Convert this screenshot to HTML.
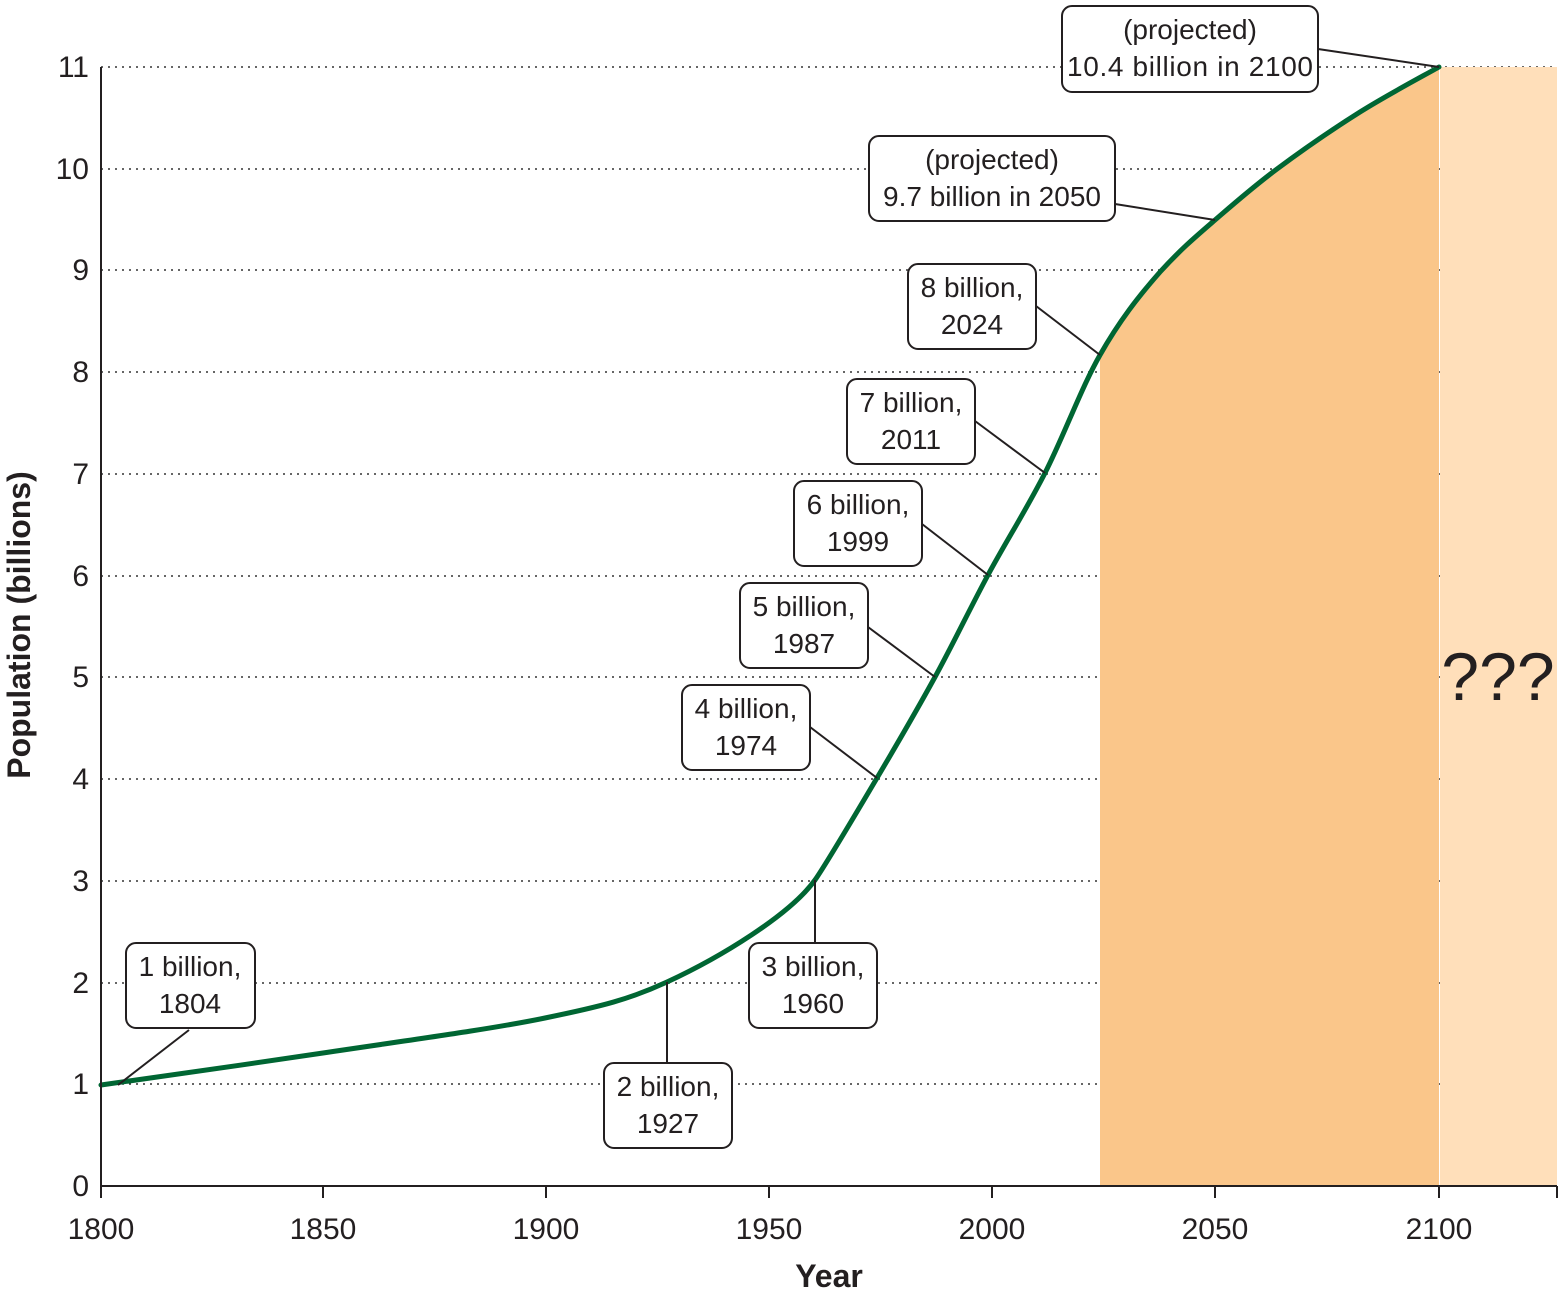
<!DOCTYPE html>
<html><head><style>body{margin:0;background:#fff}svg{display:block}</style></head><body>
<svg width="1563" height="1293" xmlns="http://www.w3.org/2000/svg" font-family="Liberation Sans, sans-serif" fill="#231f20">
<g stroke="#333" stroke-width="1.6" stroke-dasharray="2,5">
<line x1="101" y1="67" x2="1557" y2="67"/><line x1="101" y1="169" x2="1557" y2="169"/><line x1="101" y1="270" x2="1557" y2="270"/><line x1="101" y1="372" x2="1557" y2="372"/><line x1="101" y1="474" x2="1557" y2="474"/><line x1="101" y1="576" x2="1557" y2="576"/><line x1="101" y1="677" x2="1557" y2="677"/><line x1="101" y1="779" x2="1557" y2="779"/><line x1="101" y1="881" x2="1557" y2="881"/><line x1="101" y1="983" x2="1557" y2="983"/><line x1="101" y1="1084" x2="1557" y2="1084"/>
</g>
<rect x="1440" y="67" width="117" height="1119" fill="#ffdfba"/>
<path fill="#fac68a" stroke="none" d="M1100,355 C1119.2,321.2 1138,297 1160,272 C1181,249 1195.5,236.8 1215,220 C1234.5,203.2 1252.8,187 1277,169 C1301.2,151 1333,129 1360,112 C1387,95 1425.8,74.5 1439,67 L1439,1186 L1100,1186 Z"/>
<path fill="none" stroke="#006633" stroke-width="5" stroke-linecap="round" d="M101,1085 C138,1079.7 249,1064.2 323,1053 C397,1041.8 487.7,1029.8 545,1018 C602.3,1006.2 629.5,999.3 667,982 C720,957.5 790,915 815,880 C825,866 857,811.8 877,778 C897,744.2 916.5,710.8 935,677 C953.5,643.2 969.7,609 988,575 C1006.3,541 1026.3,509.7 1045,473 C1063.7,436.3 1080.8,388.8 1100,355 C1119.2,321.2 1138,297 1160,272 C1181,249 1195.5,236.8 1215,220 C1234.5,203.2 1252.8,187 1277,169 C1301.2,151 1333,129 1360,112 C1387,95 1425.8,74.5 1439,67"/>
<g stroke="#231f20" stroke-width="2" fill="none">
<line x1="101" y1="67" x2="101" y2="1186"/><line x1="101" y1="1186" x2="1557" y2="1186"/>
<line x1="101" y1="1186" x2="101" y2="1198"/><line x1="323" y1="1186" x2="323" y2="1198"/><line x1="546" y1="1186" x2="546" y2="1198"/><line x1="769" y1="1186" x2="769" y2="1198"/><line x1="992" y1="1186" x2="992" y2="1198"/><line x1="1215" y1="1186" x2="1215" y2="1198"/><line x1="1439" y1="1186" x2="1439" y2="1198"/><line x1="1557" y1="1186" x2="1557" y2="1198"/>
<line x1="189" y1="1030" x2="118" y2="1085"/><line x1="667" y1="982" x2="667" y2="1063"/><line x1="815" y1="880" x2="815" y2="943"/><line x1="810" y1="727" x2="877" y2="778"/><line x1="868" y1="627" x2="935" y2="677"/><line x1="922" y1="524" x2="988" y2="575"/><line x1="975" y1="421" x2="1045" y2="473"/><line x1="1036" y1="306" x2="1100" y2="355"/><line x1="1115" y1="204" x2="1215" y2="220"/><line x1="1318" y1="49" x2="1439" y2="67"/>
</g>
<g stroke="#231f20" stroke-width="2" fill="#fff">
<rect x="126" y="943" width="129" height="85" rx="10"/><rect x="604" y="1063" width="128" height="85" rx="10"/><rect x="749" y="943" width="128" height="85" rx="10"/><rect x="682" y="685" width="128" height="85" rx="10"/><rect x="740" y="583" width="128" height="85" rx="10"/><rect x="794" y="481" width="128" height="85" rx="10"/><rect x="847" y="379" width="128" height="85" rx="10"/><rect x="908" y="264" width="128" height="85" rx="10"/><rect x="869" y="136" width="246" height="85" rx="10"/><rect x="1062" y="6" width="256" height="86" rx="10"/>
</g>
<g font-size="28" text-anchor="middle">
<text x="190" y="976">1 billion,</text><text x="190" y="1013">1804</text>
<text x="668" y="1096">2 billion,</text><text x="668" y="1133">1927</text>
<text x="813" y="976">3 billion,</text><text x="813" y="1013">1960</text>
<text x="746" y="718">4 billion,</text><text x="746" y="755">1974</text>
<text x="804" y="616">5 billion,</text><text x="804" y="653">1987</text>
<text x="858" y="514">6 billion,</text><text x="858" y="551">1999</text>
<text x="911" y="412">7 billion,</text><text x="911" y="449">2011</text>
<text x="972" y="297">8 billion,</text><text x="972" y="334">2024</text>
<text x="992" y="169">(projected)</text><text x="992" y="206">9.7 billion in 2050</text>
<text x="1190" y="39">(projected)</text><text x="1190" y="76" textLength="246">10.4 billion in 2100</text>
</g>
<g font-size="30" text-anchor="middle">
<text x="101" y="1239">1800</text><text x="323" y="1239">1850</text><text x="546" y="1239">1900</text><text x="769" y="1239">1950</text><text x="992" y="1239">2000</text><text x="1215" y="1239">2050</text><text x="1439" y="1239">2100</text>
</g>
<g font-size="30" text-anchor="end">
<text x="89" y="77">11</text><text x="89" y="179">10</text><text x="89" y="280">9</text><text x="89" y="382">8</text><text x="89" y="484">7</text><text x="89" y="586">6</text><text x="89" y="687">5</text><text x="89" y="789">4</text><text x="89" y="891">3</text><text x="89" y="993">2</text><text x="89" y="1094">1</text><text x="89" y="1196">0</text>
</g>
<text x="829" y="1287" font-size="32" font-weight="bold" text-anchor="middle">Year</text>
<text transform="translate(30,625) rotate(-90)" font-size="32" font-weight="bold" text-anchor="middle">Population (billions)</text>
<text x="1498" y="700" font-size="68" text-anchor="middle">???</text>
</svg>
</body></html>
